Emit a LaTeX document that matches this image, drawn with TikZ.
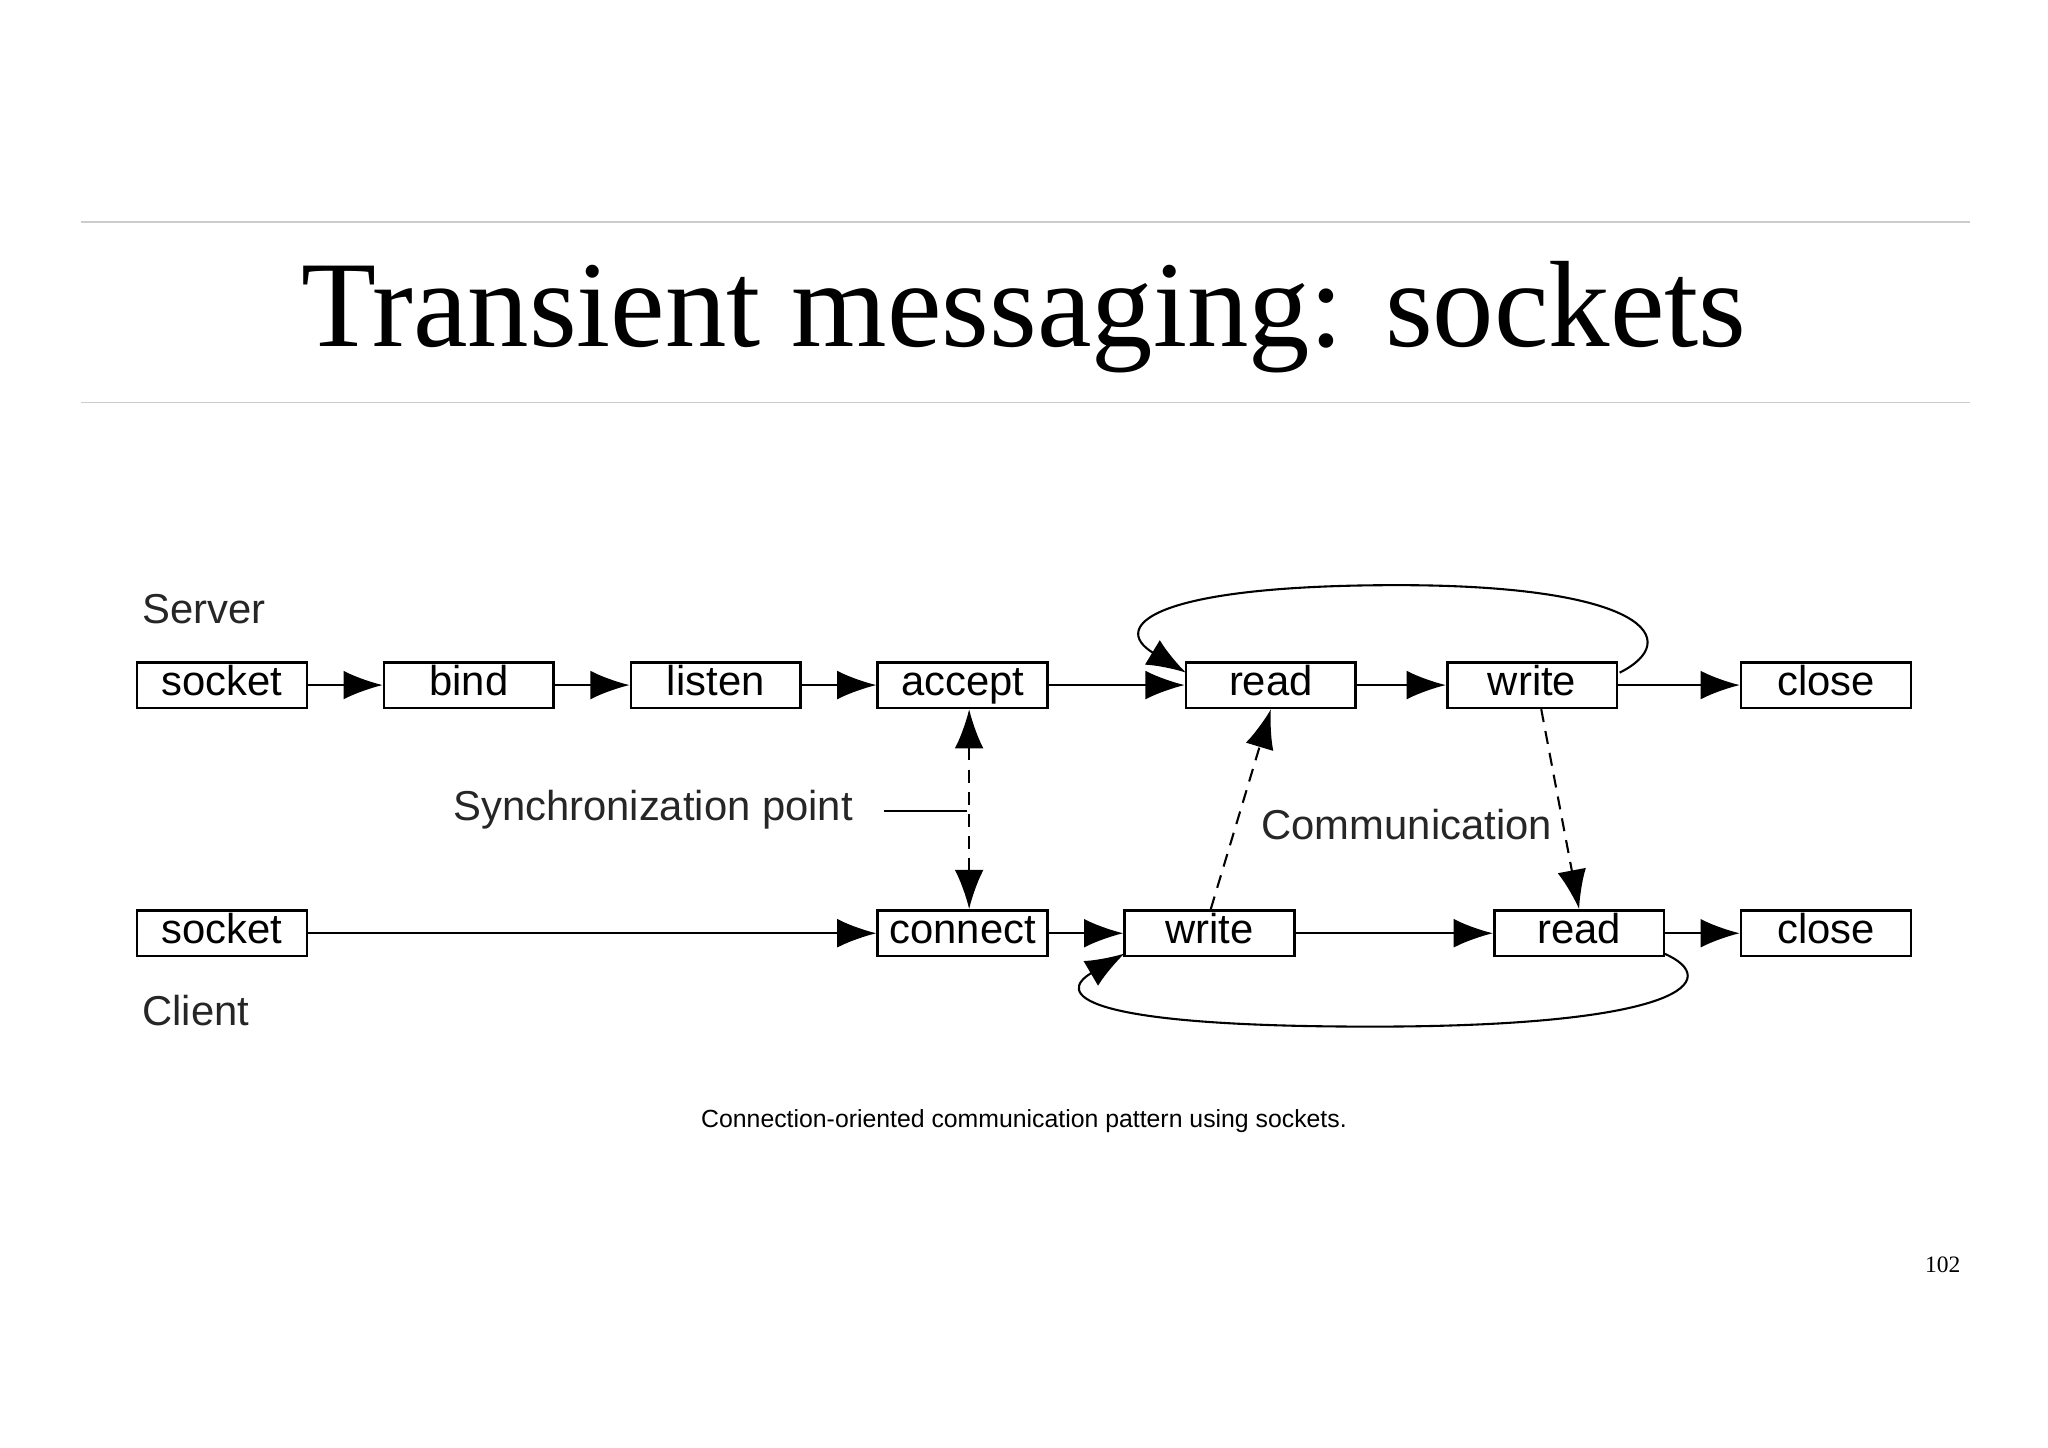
\documentclass[tikz,border=0pt]{standalone}
\usepackage{fontspec}
\setmainfont{Liberation Sans}
\newfontfamily\titlefont{Liberation Serif}
\usetikzlibrary{arrows.meta}
\begin{document}
\begin{tikzpicture}[x=0.5pt,y=-0.5pt,
  box/.style={draw,line width=1pt,minimum width=65pt,minimum height=17.5pt,inner sep=0pt,text height=11.5pt,text depth=3.5pt,font=\fontsize{16}{18}\selectfont},
  arr/.style={line width=0.8pt,-{Latex[length=15pt,width=11pt]}},
  dsh/.style={dash pattern=on 5pt off 3.5pt},
  lbl/.style={font=\fontsize{16}{18}\selectfont,text=black!85}]
\useasboundingbox (0,0) rectangle (1568,1108);
\draw[black!20,line width=0.6pt] (62,170) -- (1508,170);
\draw[black!20,line width=0.6pt] (62,308) -- (1508,308);
\node (title) at (784,243) {\titlefont\fontsize{47}{52}\selectfont Transient messaging: sockets};
\node[lbl,anchor=west] (server) at (102,466) {Server};
\node[lbl,anchor=west] (client) at (102,774) {Client};
\node[box] (ss) at (170,524.5) {socket};
\node[box] (sb) at (359,524.5) {bind};
\node[box] (sl) at (548,524.5) {listen};
\node[box] (sa) at (737,524.5) {accept};
\node[box] (sr) at (973,524.5) {read};
\node[box] (sw) at (1173,524.5) {write};
\node[box] (sc) at (1398,524.5) {close};
\node[box] (cs) at (170,714.5) {socket};
\node[box] (cc) at (737,714.5) {connect};
\node[box] (cw) at (926,714.5) {write};
\node[box] (cr) at (1209,714.5) {read};
\node[box] (ccl) at (1398,714.5) {close};
\draw[arr] (ss) -- (sb);
\draw[arr] (sb) -- (sl);
\draw[arr] (sl) -- (sa);
\draw[arr] (sa) -- (sr);
\draw[arr] (sr) -- (sw);
\draw[arr] (sw) -- (sc);
\draw[arr] (cs) -- (cc);
\draw[arr] (cc) -- (cw);
\draw[arr] (cw) -- (cr);
\draw[arr] (cr) -- (ccl);
\coordinate (swl) at (1240,515);
\coordinate (srl) at (908,515);
\draw[arr] (swl) .. controls (1290,490) and (1260,448) .. (1070,448)
  .. controls (880,448) and (850,480) .. (srl);
\coordinate (crl) at (1274,730);
\coordinate (cwl) at (861,730);
\draw[arr] (crl) .. controls (1320,750) and (1290,786) .. (1050,786)
  .. controls (820,786) and (810,760) .. (cwl);
\draw[line width=0.8pt,dsh,{Latex[length=15pt,width=11pt]}-{Latex[length=15pt,width=11pt]}] (sa.south -| 742,0) -- (cc.north -| 742,0);
\draw[arr,dsh] (cw.north) ++(1,0) -- (sr.south);
\draw[arr,dsh] (sw.south) ++(7,0) -- (cr.north);
\node[lbl] (sync) at (500,620) {Synchronization point};
\coordinate (syncend) at (740,621);
\draw[line width=0.8pt] (677,621) -- (syncend);
\node[lbl] (comm) at (1077,631) {Communication};
\node (cap) at (784,858) {\fontsize{9.5}{11}\selectfont Connection-oriented communication pattern using sockets.};
\node[anchor=east] (pg) at (1508,968) {\titlefont\fontsize{9}{10}\selectfont 102};
\end{tikzpicture}
\end{document}
